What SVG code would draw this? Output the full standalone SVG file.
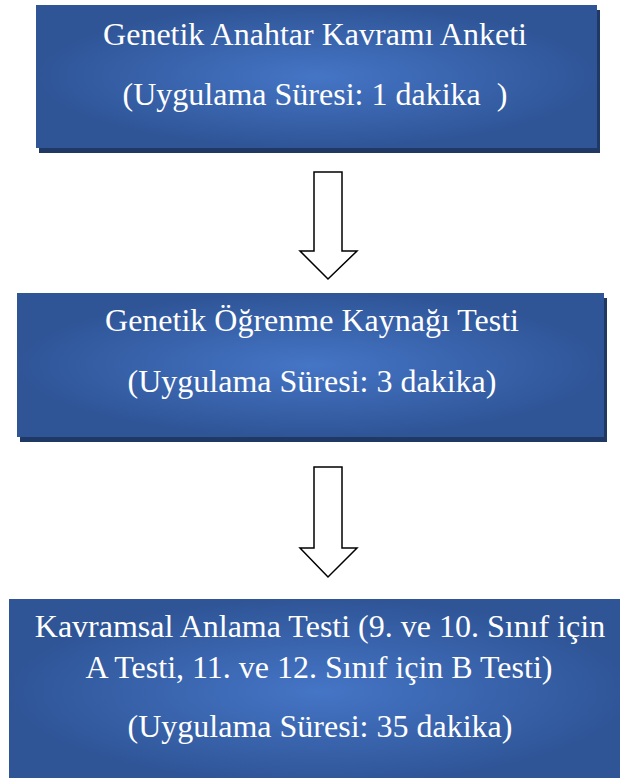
<svg xmlns="http://www.w3.org/2000/svg" width="620" height="778" viewBox="0 0 620 778">
<style>
.box{fill:url(#g)}
.sh{fill:#1f3864}
.t{font-family:"Liberation Serif","Times New Roman",serif;font-size:32px;fill:#ffffff;text-anchor:middle}
.ar{fill:#ffffff;stroke:#000000;stroke-width:1.5;stroke-linejoin:miter}
</style>
<defs>
<radialGradient id="g" cx="0.5" cy="0.5" r="0.5" gradientUnits="objectBoundingBox">
<stop offset="0" stop-color="#4575c6"/>
<stop offset="1" stop-color="#2f5597"/>
</radialGradient>
</defs>
<rect width="620" height="778" fill="#ffffff"/>
<g id="node1">
<rect class="sh" x="39" y="10" width="561" height="143"/>
<rect class="box" x="36" y="5" width="561" height="143"/>
<text class="t" x="315" y="45">Genetik Anahtar Kavramı Anketi</text>
<text class="t" x="315" y="105" xml:space="preserve">(Uygulama Süresi: 1 dakika  )</text>
</g>
<g id="node2">
<rect class="sh" x="20" y="298" width="587" height="144"/>
<rect class="box" x="17" y="293" width="587" height="144"/>
<text class="t" x="312" y="331">Genetik Öğrenme Kaynağı Testi</text>
<text class="t" x="312" y="392">(Uygulama Süresi: 3 dakika)</text>
</g>
<g id="node3">
<rect class="box" x="9" y="599" width="622" height="185"/>
<text class="t" x="320" y="637">Kavramsal Anlama Testi (9. ve 10. Sınıf için</text>
<text class="t" x="319" y="678">A Testi, 11. ve 12. Sınıf için B Testi)</text>
<text class="t" x="320" y="737">(Uygulama Süresi: 35 dakika)</text>
</g>
<g id="connectors">
<polygon class="ar" points="314,172 342,172 342,251 357,251 328,279 300,251 314,251"/>
<polygon class="ar" points="314,467 342,467 342,548 357,548 328,577 300,548 314,548"/>
</g>
</svg>
